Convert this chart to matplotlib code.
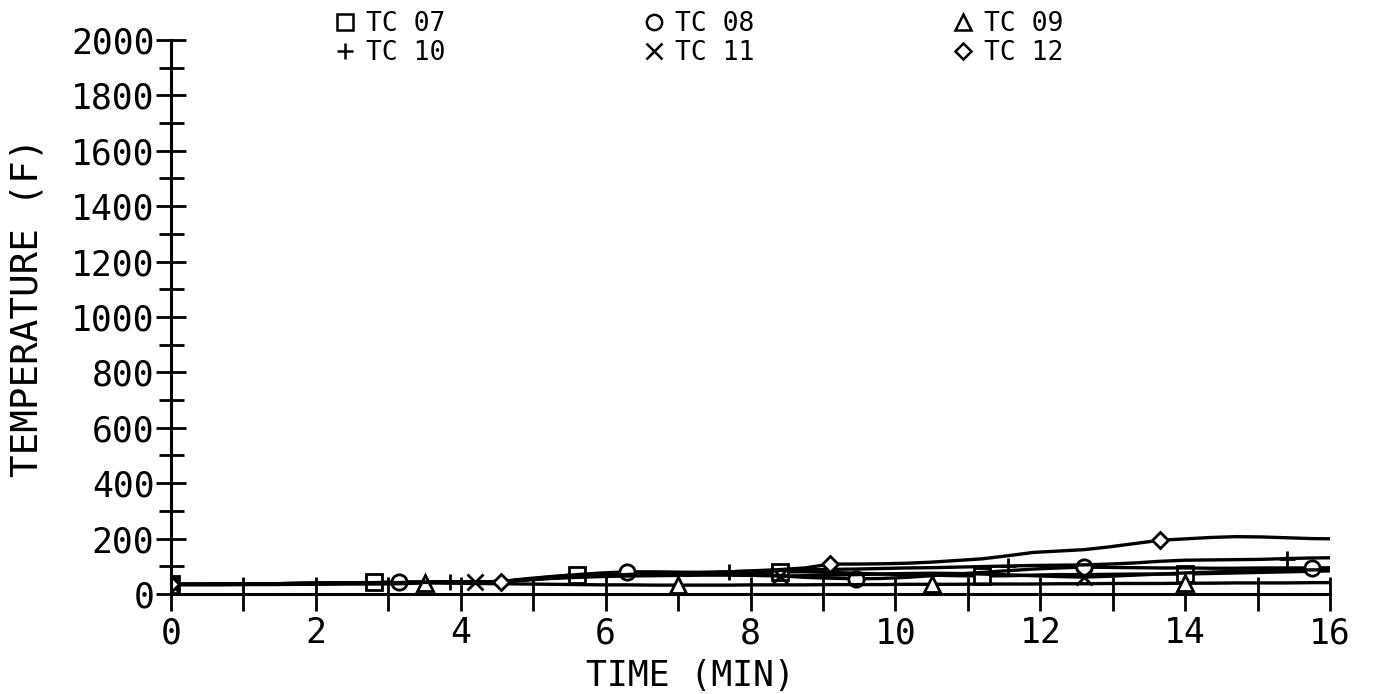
import matplotlib
matplotlib.use("Agg")
import matplotlib.pyplot as plt
from matplotlib.lines import Line2D

plt.rcParams['font.family'] = ['DejaVu Sans Mono']

# scan every 0.35 min
time = [round(0.35 * k, 2) for k in range(47)]

tc07 = [35, 35, 36, 36, 37, 38, 39, 40, 42, 42, 43, 43, 44, 45, 55, 63,
        70, 70, 71, 72, 73, 74, 75, 78, 80, 80, 78, 75, 72, 70, 68, 66,
        65, 66, 68, 70, 70, 71, 72, 72, 72, 74, 76, 78, 80, 82, 84]
tc08 = [35, 35, 36, 36, 37, 38, 39, 40, 41, 43, 43, 44, 44, 45, 52, 62,
        70, 76, 80, 80, 79, 78, 76, 72, 66, 60, 57, 55, 56, 60, 66, 72,
        78, 84, 90, 94, 97, 96, 95, 94, 94, 93, 93, 94, 94, 94, 95]
tc09 = [33, 33, 33, 34, 34, 35, 35, 36, 36, 37, 40, 39, 38, 37, 36, 35,
        34, 33, 33, 32, 32, 32, 32, 33, 33, 33, 34, 34, 34, 35, 35, 35,
        36, 36, 36, 37, 37, 38, 38, 38, 39, 39, 40, 40, 40, 41, 41]
tc10 = [35, 35, 36, 36, 37, 38, 39, 40, 41, 41, 42, 43, 44, 45, 52, 58,
        63, 67, 70, 73, 75, 78, 80, 83, 85, 87, 89, 90, 92, 94, 95, 97,
        99, 101, 103, 104, 105, 108, 112, 118, 122, 123, 124, 125, 128, 130, 131]
tc11 = [35, 35, 36, 36, 37, 38, 39, 40, 41, 41, 42, 42, 43, 44, 50, 56,
        60, 63, 65, 66, 67, 68, 68, 67, 65, 66, 68, 70, 72, 74, 75, 74,
        72, 69, 66, 63, 61, 64, 68, 72, 76, 79, 82, 84, 86, 87, 88]
tc12 = [35, 35, 36, 36, 37, 38, 39, 40, 41, 41, 42, 42, 43, 44, 52, 58,
        62, 66, 70, 72, 74, 77, 80, 84, 88, 94, 108, 108, 109, 111, 115, 121,
        127, 138, 150, 155, 160, 170, 182, 194, 199, 204, 207, 206, 203, 200, 199]

series = [tc07, tc08, tc09, tc10, tc11, tc12]
names = ['TC 07', 'TC 08', 'TC 09', 'TC 10', 'TC 11', 'TC 12']
markers = ['s', 'o', '^', '+', 'x', 'D']
every = [8, 9, 10, 11, 12, 13]

fig = plt.figure(figsize=(13.75, 6.94), dpi=100)
ax = fig.add_axes([0.1244, 0.1441, 0.8429, 0.7983])

for y, m, n in zip(series, markers, every):
    ms = 8 if m == 'D' else 11
    ax.plot(time, y, color='k', lw=2.4, marker=m, markevery=n, ms=ms,
            mfc='white', mec='k', mew=2)

ax.set_xlim(0, 16)
ax.set_ylim(0, 2000)
ax.spines['top'].set_visible(False)
ax.spines['right'].set_visible(False)
ax.spines['left'].set_linewidth(2.2)
ax.spines['bottom'].set_linewidth(2.2)

ax.set_xticks(range(0, 17, 2))
ax.set_xticks(range(0, 17, 1), minor=True)
ax.set_yticks(range(0, 2001, 200))
ax.set_yticks(range(0, 2001, 100), minor=True)
ax.tick_params(which='both', direction='inout', width=2, color='k')
ax.tick_params(axis='x', which='both', length=24, pad=4, labelsize=25)
ax.tick_params(axis='y', which='major', length=22, pad=1, labelsize=25)
ax.tick_params(axis='y', which='minor', length=18)

ax.set_xlabel('TIME (MIN)', fontsize=25)
ax.xaxis.set_label_coords(0.448, -0.118)
ax.set_ylabel('TEMPERATURE (F)', fontsize=27)
ax.yaxis.set_label_coords(-0.108, 0.518)

# legend: row-wise TC07 TC08 TC09 / TC10 TC11 TC12
order = [0, 3, 1, 4, 2, 5]
handles = [Line2D([], [], ls='none', marker=markers[i], color='k', mfc='white',
                  mew=1.8, ms=(8 if markers[i] == 'D' else 11)) for i in order]
labels = [names[i] for i in order]
fig.legend(handles, labels, ncol=3, loc='upper left',
           bbox_to_anchor=(0.232, 1.003), frameon=False, fontsize=19,
           handlelength=1.0, handletextpad=0.3, columnspacing=7.4,
           labelspacing=0.12, borderpad=0)

fig.savefig('out.png', dpi=100)
